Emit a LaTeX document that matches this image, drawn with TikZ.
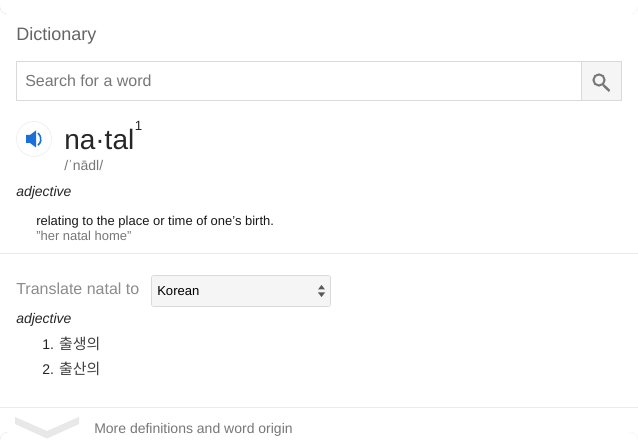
\documentclass[tikz,border=0pt]{standalone}
\usepackage{fontspec}
\setmainfont{Liberation Sans}
\newfontfamily\krfont{Noto Sans CJK KR}
\usetikzlibrary{calc,positioning}
\definecolor{cardline}{HTML}{EBEBEB}
\definecolor{boxline}{HTML}{D9D9D9}
\definecolor{btnfill}{HTML}{F5F5F5}
\definecolor{greytext}{HTML}{777777}
\definecolor{speakerblue}{HTML}{1A6FD8}
\tikzset{
    lbl/.style={inner sep=0pt, anchor=base west, text=#1},
    lbl/.default=black,
}
\begin{document}
\begin{tikzpicture}[x=0.75pt,y=-0.75pt]
    \useasboundingbox (0,0) rectangle (638,448);
    \fill[white] (0,0) rectangle (638,448);
    % card corners
    \draw[cardline] (0,7) arc[start angle=180,end angle=90,radius=7];
    \draw[cardline] (0,440) arc[start angle=180,end angle=270,radius=8];
    \draw[black!4] (638,7) arc[start angle=0,end angle=90,radius=7];
    \draw[black!4] (638,440) arc[start angle=0,end angle=-90,radius=8];
    % title and search box
    \node[lbl={greytext!85!black}] (title) at (16,41) {\fontsize{13.5}{16}\selectfont Dictionary};
    \draw[boxline, fill=white] (16.5,61.5) rectangle (581.5,100.5);
    \draw[boxline, fill=btnfill] (581.5,61.5) rectangle (621.5,100.5);
    \node[lbl=greytext] (search) at (25,86.5) {\fontsize{12}{14}\selectfont Search for a word};
    \draw[greytext, line width=1.5pt] (599,80) circle[radius=5.6];
    \draw[greytext, line width=1.8pt] (603.2,85) -- (609.5,91);
    % speaker
    \draw[cardline, fill=white] (34,139) circle[radius=17.5];
    \fill[speakerblue] (26,135) -- (30,135) -- (36,130.5) -- (36,147.5) -- (30,143) -- (26,143) -- cycle;
    \draw[speakerblue, line width=1.2pt] (38,133) arc[start angle=-50,end angle=50,radius=8];
    % headword
    \node[lbl={black!85}] (word) at (64,149.5) {\fontsize{21}{26}\selectfont na·tal};
    \node[lbl={black!85}] (sup) at (134.5,130.5) {\fontsize{10}{12}\selectfont 1};
    \node[lbl=greytext] (phon) at (64,170.5) {\fontsize{10.5}{12}\selectfont /ˈnādl/};
    \node[lbl={black!85}] (pos) at (16,196.7) {\fontsize{10.5}{12}\selectfont\itshape adjective};
    \node[lbl={black!90}] (defn) at (36,225.7) {\fontsize{9.73}{11}\selectfont relating to the place or time of one's birth.};
    \node[lbl=greytext] (expl) at (36,240.7) {\fontsize{9.73}{11}\selectfont "her natal home"};
    \draw[cardline] (0,253.5) -- (638,253.5);
    % translate row
    \node[lbl={black!45}] (trans) at (16,294.7) {\fontsize{12}{14}\selectfont Translate natal to};
    \draw[boxline, fill=btnfill, rounded corners=1.5pt] (151.5,275.5) rectangle (330.5,306.5);
    \node[lbl] (lang) at (157,295.7) {\fontsize{9.8}{11}\selectfont Korean};
    \fill[black!65] (318,289.5) -- (321.5,285) -- (325,289.5) -- cycle;
    \fill[black!65] (318,292.5) -- (321.5,297) -- (325,292.5) -- cycle;
    \node[lbl={black!85}] (pos2) at (16,323.7) {\fontsize{10.5}{12}\selectfont\itshape adjective};
    \node[lbl={black!85}] (one) at (42,350) {\fontsize{10.5}{12}\selectfont 1. {\fontsize{11.2}{12}\selectfont\krfont\color{black!75} 출생의}};
    \node[lbl={black!85}] (two) at (42,374.7) {\fontsize{10.5}{12}\selectfont 2. {\fontsize{11.2}{12}\selectfont\krfont\color{black!75} 출산의}};
    % footer
    \draw[cardline] (0,407.5) -- (638,407.5);
    \fill[black!9] (15,417) -- (47,431) -- (79,417) -- (79,424) -- (47,438.5) -- (15,424) -- cycle;
    \node[lbl=greytext] (more) at (94,433) {\fontsize{10.5}{12}\selectfont More definitions and word origin};
\end{tikzpicture}
\end{document}
